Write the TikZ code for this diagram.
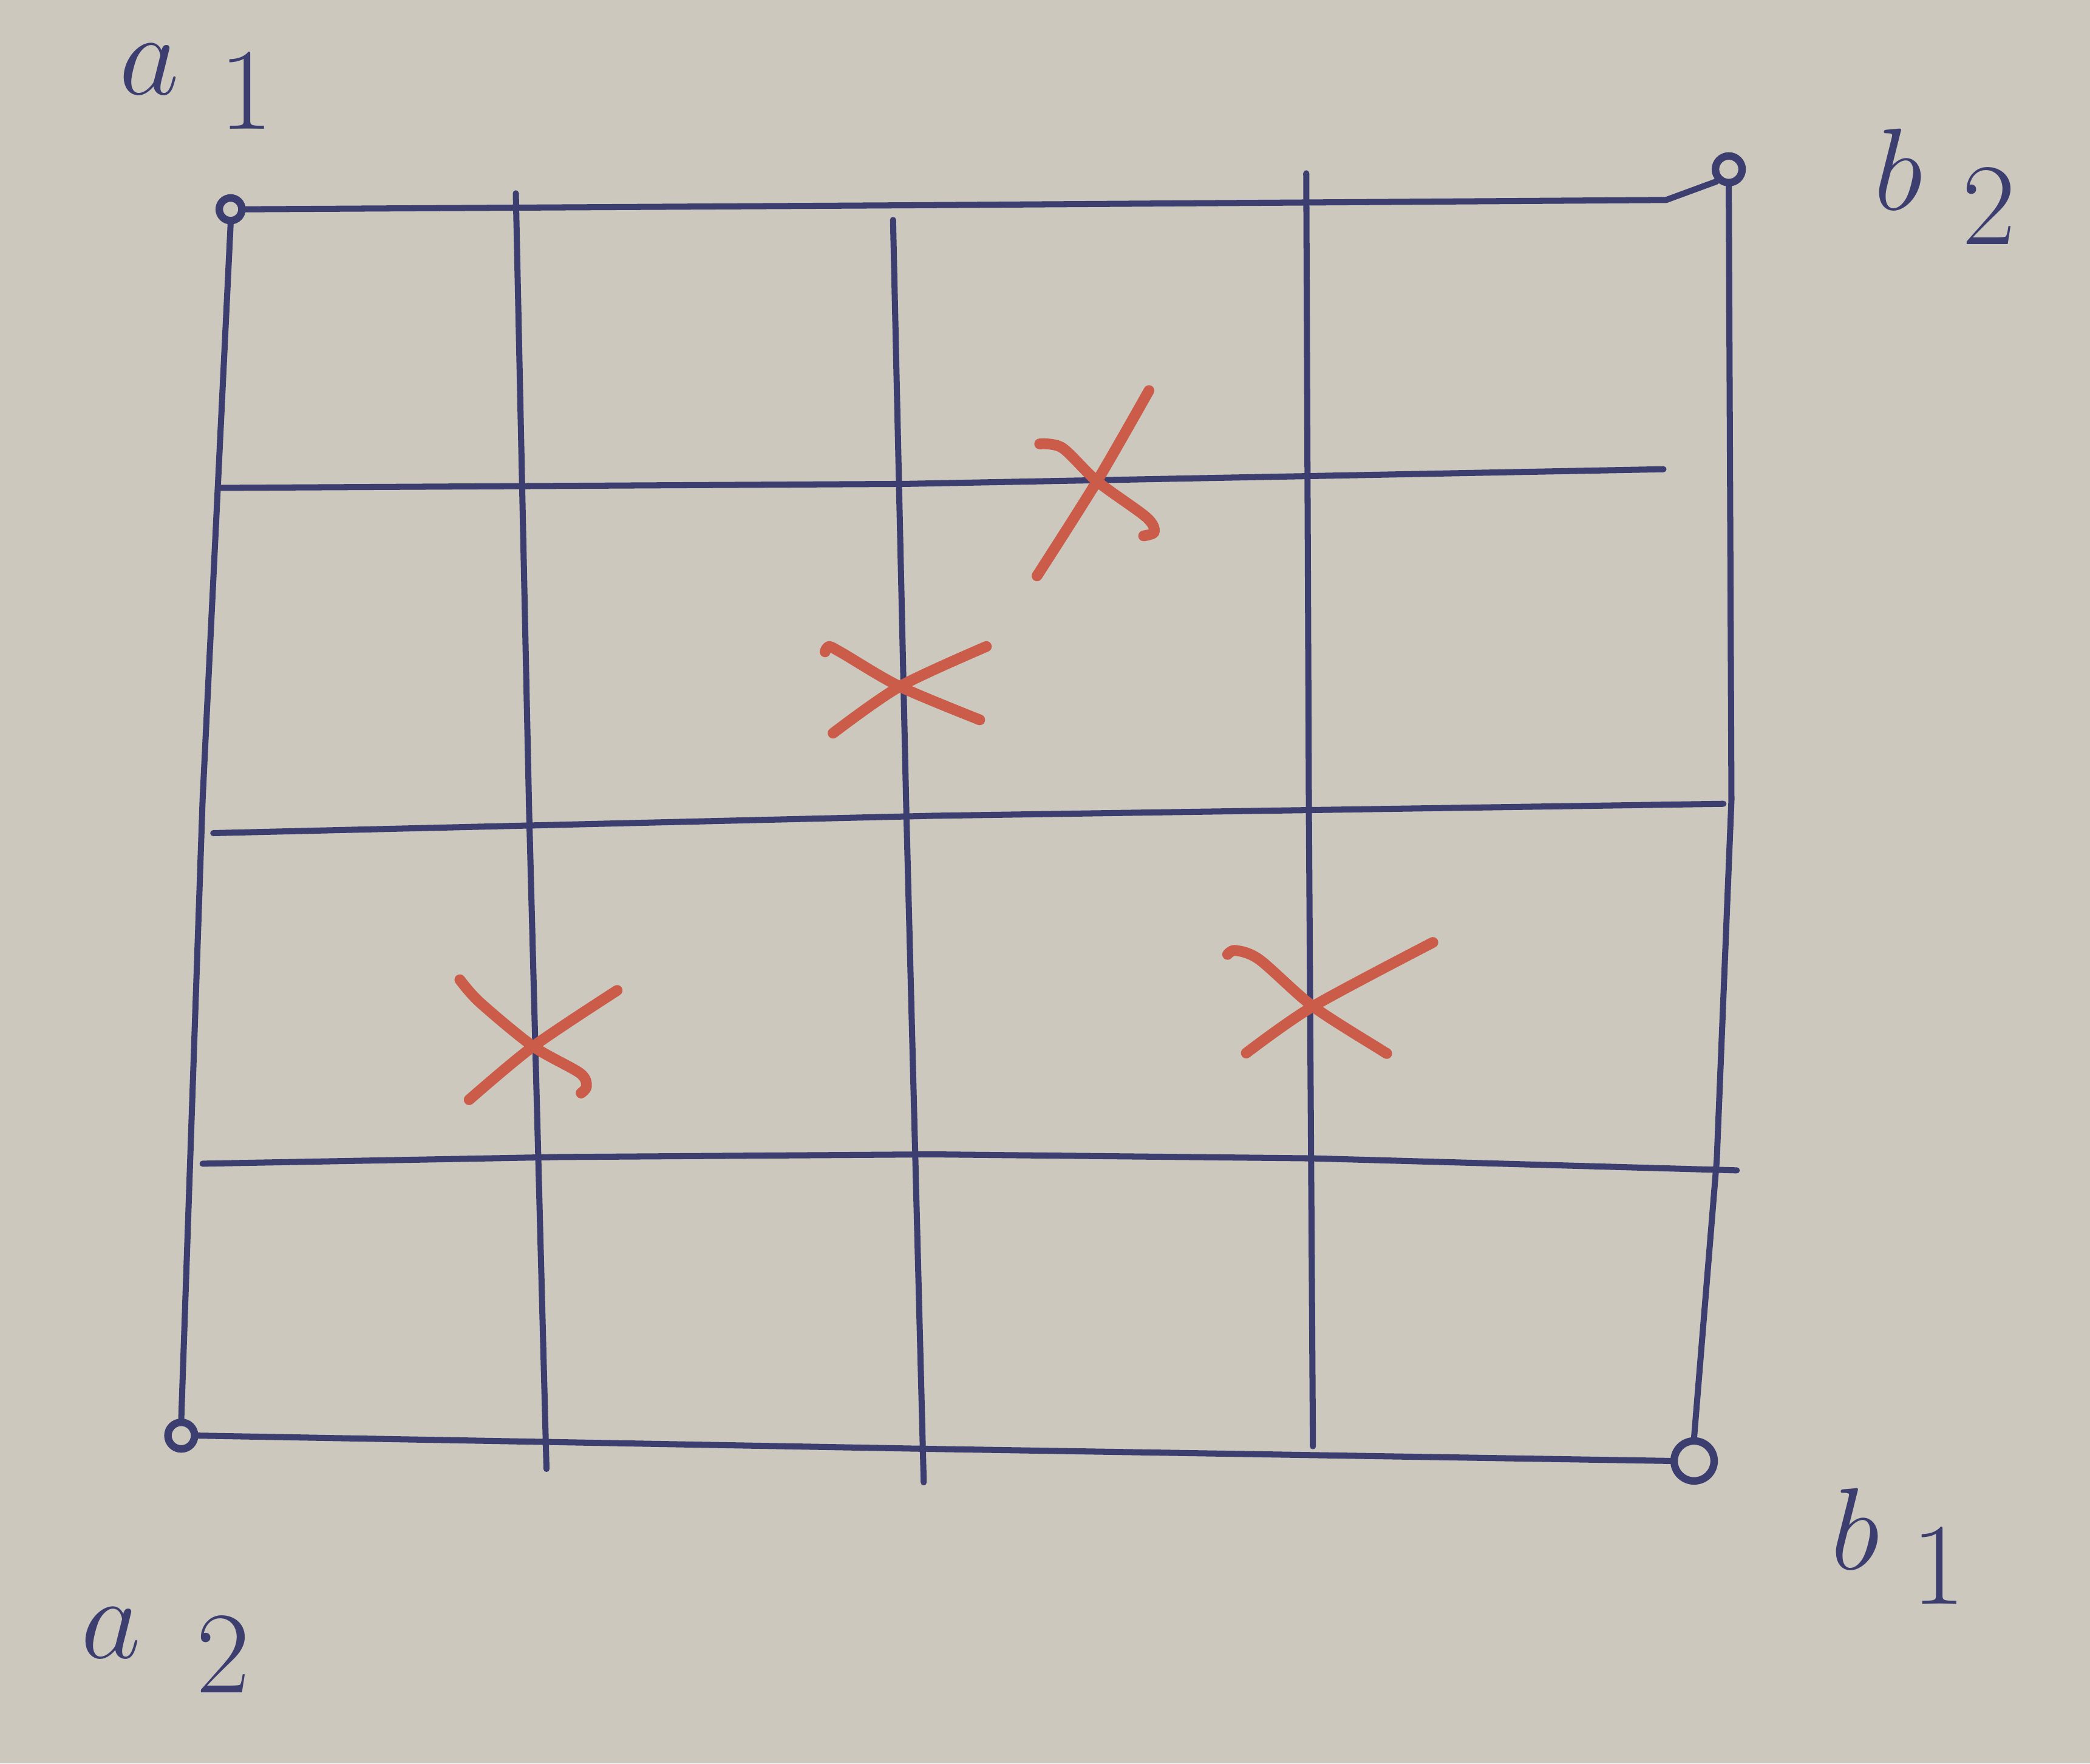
\documentclass[tikz,border=0pt]{standalone}
\definecolor{paper}{RGB}{204,200,190}
\definecolor{ink}{RGB}{60,62,112}
\definecolor{redink}{RGB}{204,92,74}
\begin{document}
\begin{tikzpicture}[x=0.01cm,y=-0.01cm,
  gridline/.style={ink, line width=1.3pt, line cap=round, line join=round},
  crossline/.style={redink, line width=2.3pt, line cap=round, line join=round},
  corner/.style={circle, draw=ink, line width=1.6pt, inner sep=0pt, minimum size=#1},
  lbl/.style={text=ink, inner sep=0pt, font=\fontsize{34}{40}\selectfont}]
\fill[paper] (0,0) rectangle (1568,1323);
\useasboundingbox (0,0) rectangle (1568,1323);
% corners
\node[corner=0.17cm] (A1) at (173,157) {};
\node[corner=0.2cm] (B2) at (1297,127) {};
\node[corner=0.2cm] (A2) at (136,1077) {};
\node[corner=0.3cm] (B1) at (1271,1096) {};
% labels
\node[lbl] (LA1) at (148,65) {$a_{\hspace{0.25em}1}$};
\node[lbl] (LB2) at (1460,140) {$b_{\hspace{0.25em}2}$};
\node[lbl] (LA2) at (125,1238) {$a_{\hspace{0.35em}2}$};
\node[lbl] (LB1) at (1425,1160) {$b_{\hspace{0.2em}1}$};
% outer frame
\draw[gridline] (A1.east) -- (680,154) -- (1250,150) -- (B2.south west);
\draw[gridline] (A1.south) -- (152,600) -- (A2.north);
\draw[gridline] (A2.east) -- (700,1087) -- (B1.west);
\draw[gridline] (B2.south) -- (1299,600) -- (1288,870) -- (B1.north);
% interior lines
\coordinate (v1t) at (387,145); \coordinate (v1b) at (410,1102);
\coordinate (v2t) at (670,165); \coordinate (v2b) at (693,1112);
\coordinate (v3t) at (980,130); \coordinate (v3b) at (985,1085);
\coordinate (h1l) at (165,366); \coordinate (h1r) at (1248,352);
\coordinate (h2l) at (160,625); \coordinate (h2r) at (1293,603);
\coordinate (h3l) at (152,873); \coordinate (h3r) at (1303,878);
\draw[gridline] (v1t) -- (397,610) -- (v1b);
\draw[gridline] (v2t) -- (680,610) -- (v2b);
\draw[gridline] (v3t) -- (982,610) -- (v3b);
\draw[gridline] (h1l) -- (680,363) -- (h1r);
\draw[gridline] (h2l) -- (700,612) -- (h2r);
\draw[gridline] (h3l) -- (420,868) -- (700,866) -- (985,869) -- (h3r);
% red crosses
\coordinate (X1) at (823,361);
\draw[crossline] plot[smooth] coordinates {(780,333) (797,336) (X1) (860,388) (866,399) (858,402)};
\draw[crossline] plot[smooth] coordinates {(862,293) (X1) (778,432)};
\coordinate (X2) at (675,515);
\draw[crossline] plot[smooth] coordinates {(619,489) (622,485) (632,490) (X2) (735,540)};
\draw[crossline] plot[smooth] coordinates {(740,485) (X2) (625,550)};
\coordinate (X3) at (985,755);
\draw[crossline] plot[smooth] coordinates {(921,716) (927,713) (945,720) (X3) (1035,787) (1040,790)};
\draw[crossline] plot[smooth] coordinates {(1075,707) (X3) (935,790)};
\coordinate (X4) at (400,785);
\draw[crossline] plot[smooth] coordinates {(345,735) (360,752) (X4) (435,805) (440,815) (436,820)};
\draw[crossline] plot[smooth] coordinates {(463,743) (X4) (352,825)};
\end{tikzpicture}
\end{document}
